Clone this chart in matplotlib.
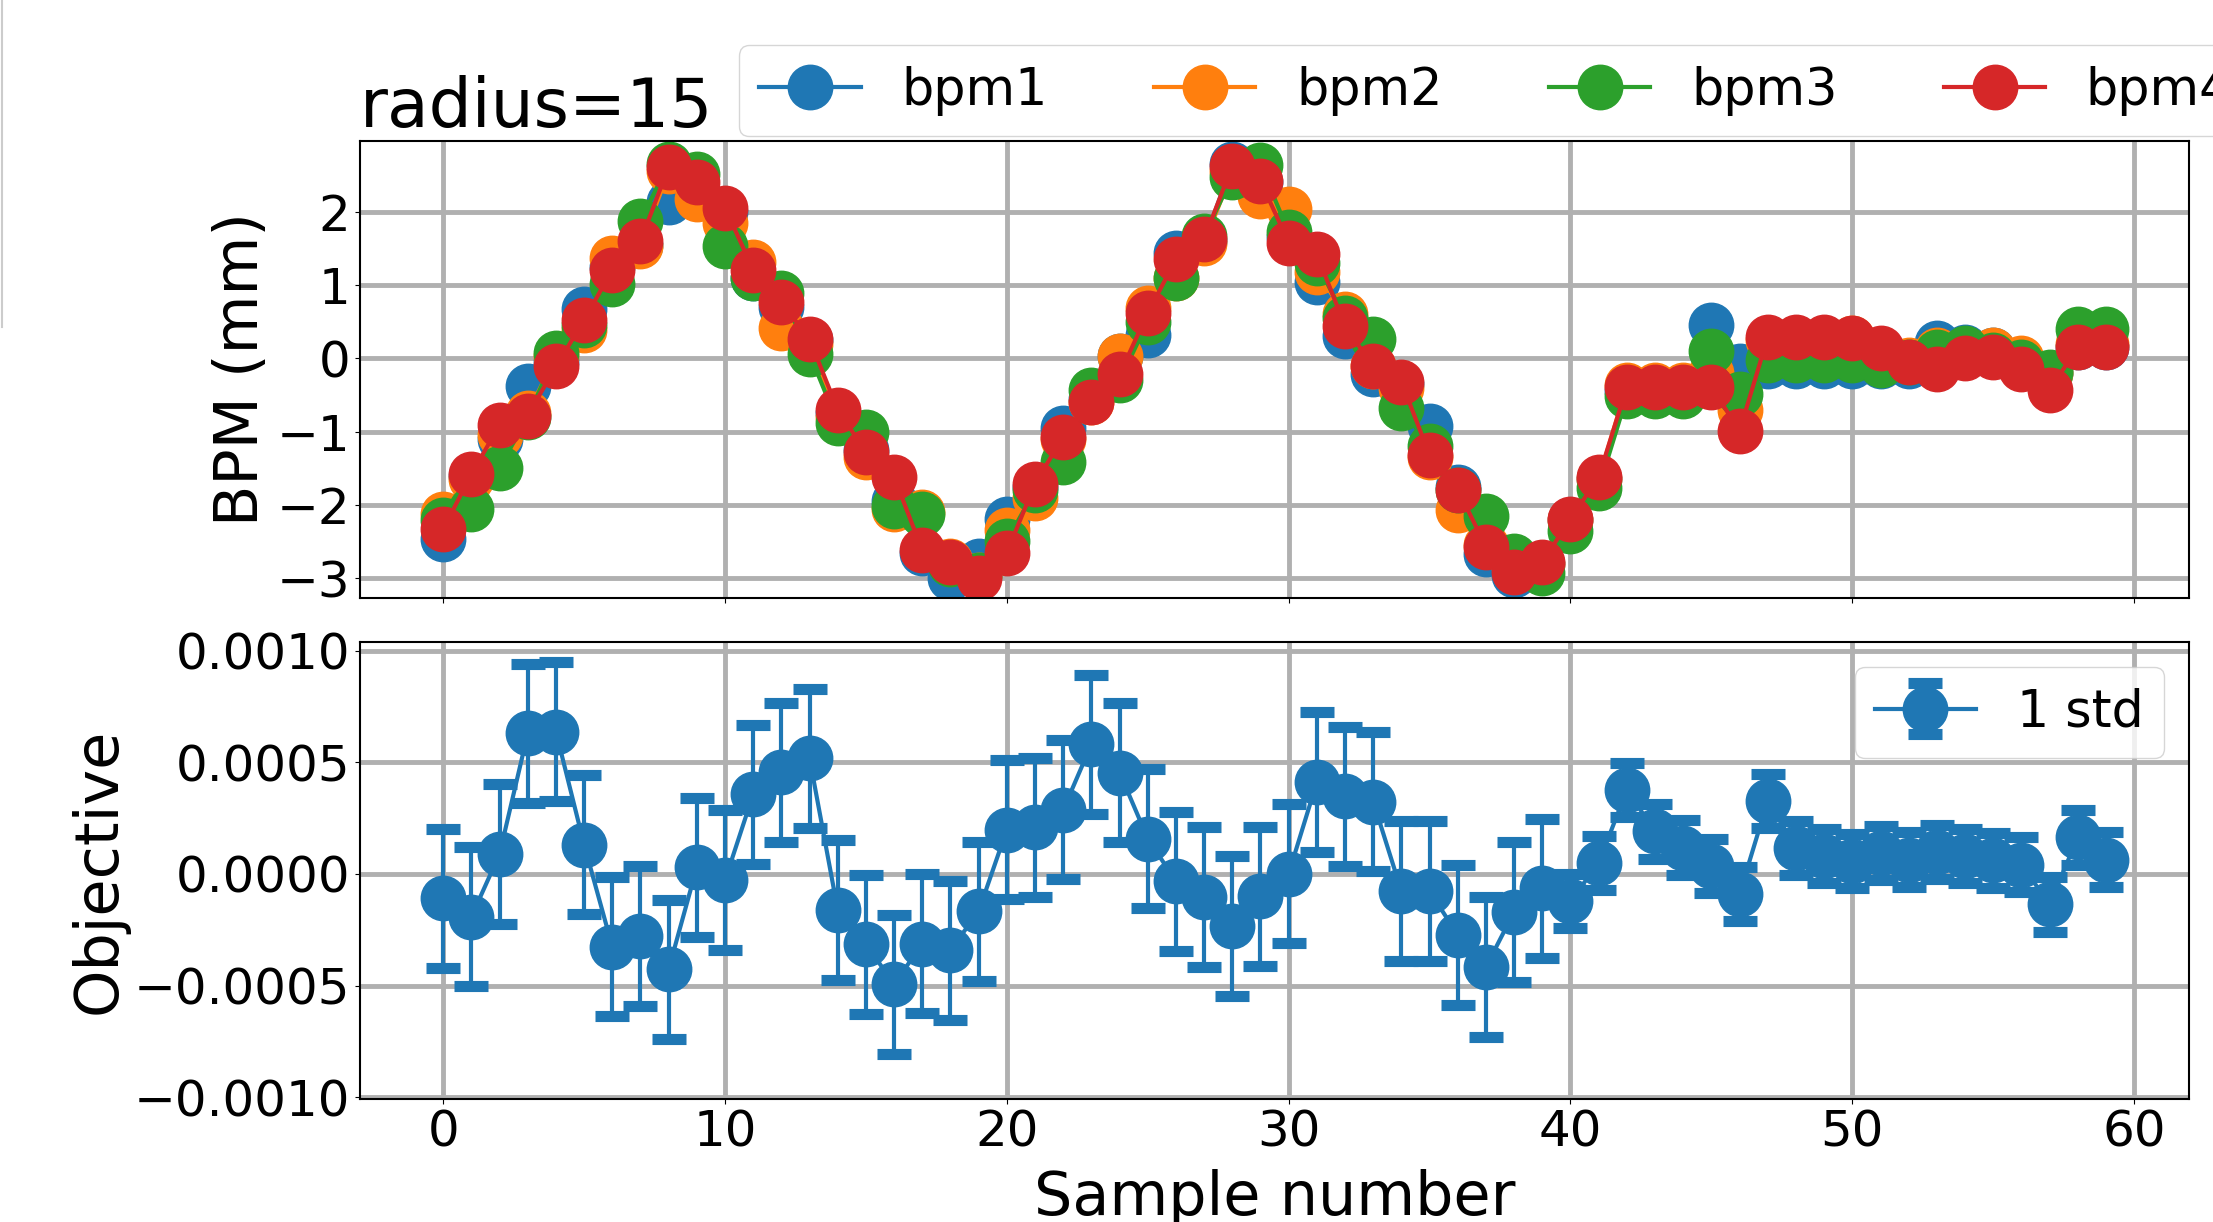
import numpy as np
import matplotlib
matplotlib.use("Agg")
import matplotlib.pyplot as plt
from matplotlib.lines import Line2D

# ---------------- data ----------------
samples = list(range(60))
series_names = ["bpm1", "bpm2", "bpm3", "bpm4"]

bpm1 = [-2.47, -1.60, -1.10, -0.38, -0.05, 0.68, 1.25, 1.55, 2.13, 2.30,
        2.00, 1.10, 0.70, 0.25, -0.75, -1.25, -1.95, -2.66, -3.00, -2.76,
        -2.19, -1.75, -0.95, -0.55, 0.03, 0.32, 1.44, 1.60, 2.65, 2.40,
        1.65, 1.04, 0.31, -0.22, -0.35, -0.92, -1.75, -2.67, -2.95, -2.80,
        -2.20, -1.65, -0.45, -0.45, -0.45, 0.45, -0.11, -0.10, -0.10, -0.10,
        -0.10, -0.10, -0.10, 0.21, 0.16, 0.11, -0.03, -0.20, 0.15, 0.15]
bpm2 = [-2.13, -1.65, -1.05, -0.75, 0.03, 0.39, 1.37, 1.53, 2.55, 2.17,
        1.85, 1.31, 0.42, 0.20, -0.80, -1.34, -2.05, -2.10, -2.76, -2.95,
        -2.34, -1.90, -1.10, -0.60, 0.03, 0.69, 1.10, 1.57, 2.55, 2.21,
        2.04, 1.18, 0.60, -0.10, -0.40, -1.34, -2.07, -2.55, -2.85, -2.80,
        -2.20, -1.65, -0.37, -0.37, -0.37, -0.20, -0.70, 0.25, 0.28, 0.28,
        0.28, 0.10, -0.02, 0.12, 0.10, 0.11, 0.00, -0.20, 0.20, 0.20]
bpm3 = [-2.20, -2.06, -1.49, -0.80, 0.07, 0.45, 1.02, 1.88, 2.65, 2.52,
        1.53, 1.09, 0.89, 0.06, -0.88, -1.00, -2.02, -2.12, -2.80, -2.96,
        -2.49, -1.80, -1.42, -0.43, -0.30, 0.50, 1.09, 1.67, 2.48, 2.64,
        1.72, 1.30, 0.55, 0.27, -0.68, -1.20, -1.80, -2.15, -2.70, -2.93,
        -2.35, -1.77, -0.52, -0.52, -0.52, 0.10, -0.48, -0.02, -0.02, -0.02,
        -0.02, -0.09, -0.05, 0.09, 0.14, 0.05, -0.05, -0.18, 0.40, 0.40]
bpm4 = [-2.33, -1.58, -0.91, -0.78, -0.11, 0.52, 1.21, 1.60, 2.61, 2.40,
        2.05, 1.21, 0.77, 0.26, -0.70, -1.28, -1.62, -2.62, -2.78, -2.99,
        -2.65, -1.71, -1.07, -0.59, -0.22, 0.62, 1.35, 1.63, 2.63, 2.42,
        1.58, 1.42, 0.44, -0.11, -0.32, -1.32, -1.79, -2.57, -2.92, -2.78,
        -2.19, -1.62, -0.39, -0.39, -0.39, -0.39, -0.99, 0.29, 0.29, 0.29,
        0.28, 0.14, -0.05, -0.14, 0.01, 0.02, -0.14, -0.43, 0.15, 0.15]

objective = [-1.10e-4, -1.92e-4, 0.89e-4, 6.29e-4, 6.37e-4, 1.31e-4, -3.26e-4, -2.78e-4, -4.27e-4, 0.30e-4,
             -0.28e-4, 3.57e-4, 4.55e-4, 5.18e-4, -1.62e-4, -3.15e-4, -4.94e-4, -3.13e-4, -3.42e-4, -1.67e-4,
             1.98e-4, 2.08e-4, 2.87e-4, 5.80e-4, 4.54e-4, 1.58e-4, -0.33e-4, -1.04e-4, -2.34e-4, -1.00e-4,
             0.01e-4, 4.11e-4, 3.47e-4, 3.24e-4, -0.77e-4, -0.77e-4, -2.74e-4, -4.17e-4, -1.70e-4, -0.65e-4,
             -1.22e-4, 0.49e-4, 3.76e-4, 1.90e-4, 1.18e-4, 0.36e-4, -0.89e-4, 3.27e-4, 1.16e-4, 0.79e-4,
             0.57e-4, 0.94e-4, 0.64e-4, 0.98e-4, 0.79e-4, 0.60e-4, 0.42e-4, -1.37e-4, 1.64e-4, 0.64e-4]
objective_std = [3.12e-4] * 40 + [1.22e-4] * 20

bpm_ticks = [-3, -2, -1, 0, 1, 2]
obj_ticks = [-0.001, -0.0005, 0.0, 0.0005, 0.001]
x_ticks = [0, 10, 20, 30, 40, 50, 60]

# ---------------- style ----------------
plt.rcParams['font.family'] = ['DejaVu Sans']
colors = ['#1f77b4', '#ff7f0e', '#2ca02c', '#d62728']
MS = 32
LW = 3
GRID_KW = dict(color='#b0b0b0', linewidth=3.5)
LABEL_FS = 43.5

fig = plt.figure(figsize=(22.13, 12.22), dpi=100)
ax1 = fig.add_axes([0.1627, 0.5106, 0.8265, 0.3740])
ax2 = fig.add_axes([0.1627, 0.1007, 0.8265, 0.3740], sharex=ax1)

# ---- top panel ----
for name, vals, c in zip(series_names, [bpm1, bpm2, bpm3, bpm4], colors):
    ax1.plot(samples, vals, '-o', color=c, markersize=MS, linewidth=LW, label=name)

ax1.set_ylim(-3.27, 2.965)
ax1.set_yticks(bpm_ticks)
ax1.set_ylabel('BPM (mm)', fontsize=LABEL_FS)
ax1.set_title('radius=15', fontsize=49, loc='left', pad=8)
ax1.grid(True, **GRID_KW)
ax1.tick_params(labelsize=36, labelbottom=False)
ax1.legend(ncol=4, fontsize=36.5, loc='lower left', columnspacing=2.1,
           bbox_to_anchor=(0.2045, 1.0), borderaxespad=0.1)

# ---- bottom panel ----
ax2.errorbar(samples, objective, yerr=objective_std, fmt='-o', color=colors[0],
             markersize=MS, linewidth=LW, elinewidth=3, capsize=12, capthick=8,
             label='1 std')
ax2.set_ylim(-1.008e-3, 1.039e-3)
ax2.set_yticks(obj_ticks)
ax2.set_xlim(-2.95, 61.95)
ax2.set_xticks(x_ticks)
ax2.set_xlabel('Sample number', fontsize=LABEL_FS, labelpad=9)
ax2.set_ylabel('Objective', fontsize=LABEL_FS)
ax2.grid(True, **GRID_KW)
ax2.tick_params(labelsize=36)
ax2.legend(fontsize=36.5, loc='upper right')

for ax in (ax1, ax2):
    for s in ax.spines.values():
        s.set_linewidth(1.5)

# faint line at left edge of figure
fig.add_artist(Line2D([0.0008, 0.0008], [1.0, 1 - 327 / 1222],
                      transform=fig.transFigure, color='#cccccc', linewidth=1.5))

fig.savefig('out.png', dpi=100)
